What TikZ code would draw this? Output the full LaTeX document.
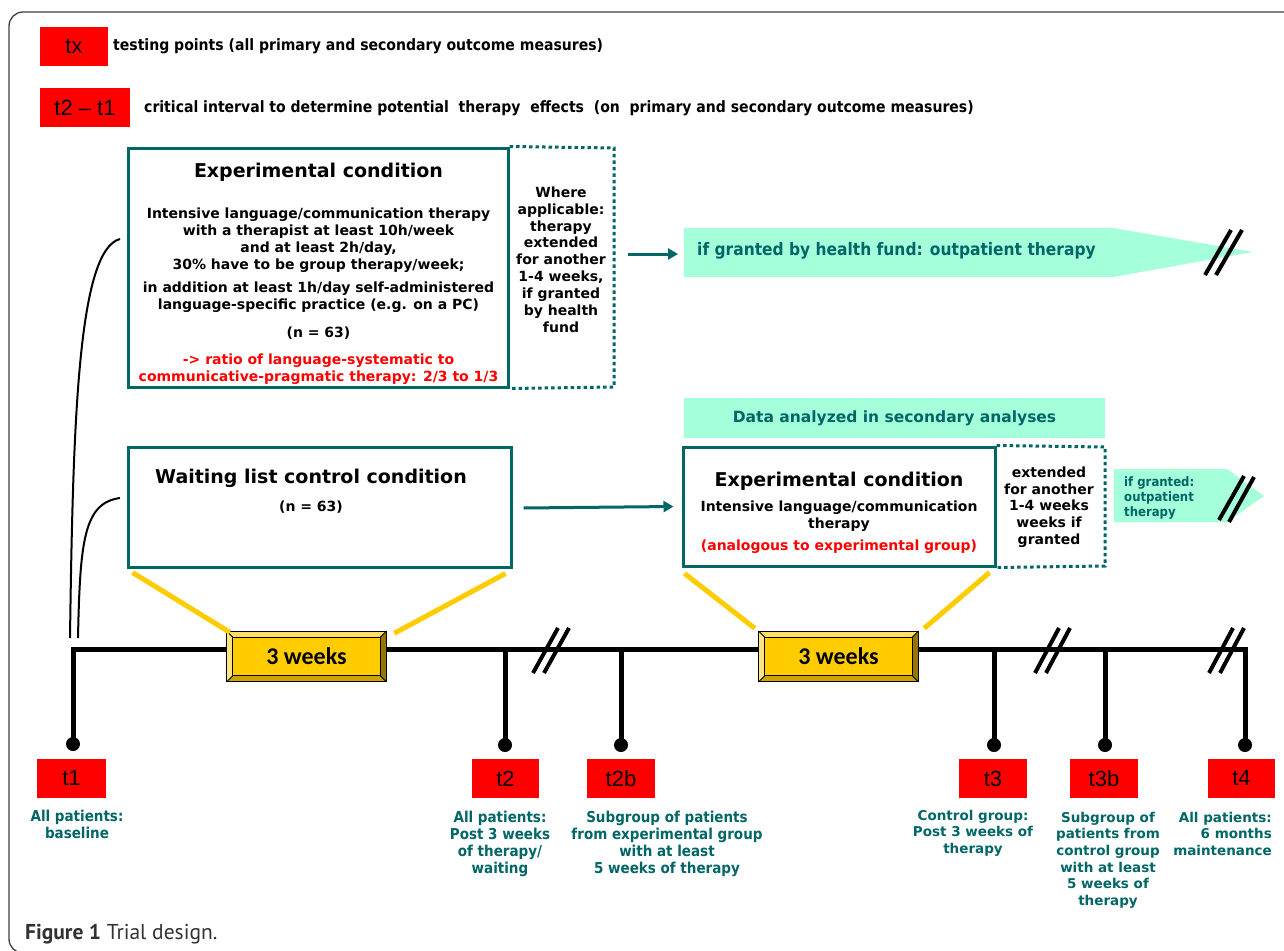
\documentclass[tikz,border=0pt]{standalone}
\usepackage{fontspec}
\setmainfont{DejaVu Sans}
\newfontfamily\cond{DejaVu Sans Condensed}
\newfontfamily\narrow{Liberation Sans}
\newfontfamily\capfont{PT Sans}
\newfontfamily\wkfont{Carlito}
\usetikzlibrary{calc,arrows.meta}
\definecolor{teal2}{RGB}{0,102,102}
\definecolor{mint}{RGB}{164,255,218}
\definecolor{gold}{RGB}{255,204,0}
\definecolor{goldlight}{RGB}{255,222,100}
\definecolor{golddark}{RGB}{204,163,0}
\definecolor{golddarker}{RGB}{150,118,0}
\definecolor{capgray}{RGB}{50,50,50}
\tikzset{
  box/.style={draw=teal2, line width=3pt, rectangle, inner sep=0pt},
  dotbox/.style={draw=teal2, line width=3pt, dash pattern=on 3.5pt off 3pt},
  redbox/.style={fill=red, inner sep=0pt, text=black, font=\narrow\fontsize{22}{22}\selectfont},
  lbl/.style={text=teal2, inner sep=0pt, align=center, font=\cond\bfseries\fontsize{15}{17}\selectfont},
  lblv/.style={text=teal2, inner sep=0pt, align=center, font=\bfseries\fontsize{13.5}{16.7}\selectfont},
  body/.style={inner sep=0pt, align=center, font=\bfseries\fontsize{14}{17.2}\selectfont},
  ttl/.style={inner sep=0pt, font=\bfseries\fontsize{19}{22}\selectfont},
  legend/.style={inner sep=0pt, anchor=west, font=\cond\bfseries\fontsize{15.6}{17}\selectfont},
  tdot/.style={circle, fill=black, inner sep=0pt, minimum size=14pt},
  tl/.style={line width=5pt, black},
  gl/.style={gold, line width=5pt},
  brk/.style={line width=4pt, black},
  wkbox/.style={fill=gold, inner sep=0pt, minimum width=159pt, minimum height=50pt},
  wktext/.style={inner sep=0pt, font=\wkfont\bfseries\fontsize{24}{24}\selectfont},
  tarrow/.style={teal2, line width=3pt, -{Triangle[length=10pt,width=11pt]}},
}
\newcommand\bevelbox[1]{%
  \fill[goldlight] (#1.north west) -- (#1.north east) -- ($(#1.north east)+(-6,6)$) -- ($(#1.north west)+(6,6)$) -- cycle;
  \fill[goldlight!80!white] (#1.north west) -- (#1.south west) -- ($(#1.south west)+(6,-6)$) -- ($(#1.north west)+(6,6)$) -- cycle;
  \fill[golddark] (#1.south west) -- (#1.south east) -- ($(#1.south east)+(-6,-6)$) -- ($(#1.south west)+(6,-6)$) -- cycle;
  \fill[golddarker] (#1.north east) -- (#1.south east) -- ($(#1.south east)+(-6,-6)$) -- ($(#1.north east)+(-6,6)$) -- cycle;
  \draw[line width=1pt] (#1.north west) rectangle (#1.south east);
  \draw[line width=0.8pt] ($(#1.north west)+(6,6)$) rectangle ($(#1.south east)+(-6,-6)$);
  \draw[line width=0.8pt] (#1.north west) -- ($(#1.north west)+(6,6)$)
    (#1.north east) -- ($(#1.north east)+(-6,6)$)
    (#1.south west) -- ($(#1.south west)+(6,-6)$)
    (#1.south east) -- ($(#1.south east)+(-6,-6)$);
}
\begin{document}
\begin{tikzpicture}[x=1pt,y=-1pt]
\useasboundingbox (0,0) rectangle (1284,950);
\fill[white] (0,0) rectangle (1284,950);
% frame
\draw[line width=1.3pt, black!75, rounded corners=14pt] (9,12) rectangle (1320,953);

% legend
\node[redbox, minimum width=68pt, minimum height=39pt] (tx) at (74,46.5) {tx};
\node[legend] (txl) at (113,46) {testing points (all primary and secondary outcome measures)};
\node[redbox, minimum width=90pt, minimum height=39pt] (tt) at (85,107.5) {t2 – t1};
\node[legend] (ttl) at (144,108) {critical interval to determine potential\ \ therapy\ \ effects\ \ (on\ \ primary and secondary outcome measures)};

% experimental condition box 1
\node[box, minimum width=380pt, minimum height=239pt] (exp1) at (318,267.5) {};
\coordinate (e1a) at (614,148);
\coordinate (e1b) at (614,387);
\draw[dotbox] (exp1.north east) -- (e1a) -- (e1b) -- (exp1.south east);
\node[ttl, anchor=north] (e1t) at (318.5,162.4) {Experimental condition};
\node[body, anchor=north] (e1b1) at (318.5,207.4) {Intensive language/communication therapy\\with a therapist at least 10h/week\\and at least 2h/day,\\30\% have to be group therapy/week;};
\node[body, anchor=north] (e1b2) at (318.5,281.4) {in addition at least 1h/day self-administered\\language-specific practice (e.g. on a PC)};
\node[body, anchor=north] (e1n) at (318.5,326.4) {(n = 63)};
\node[body, anchor=north, text=red] (e1r) at (318.5,353.4) {-> ratio of language-systematic to\\communicative-pragmatic therapy: 2/3 to 1/3};
\node[body, anchor=north, font=\bfseries\fontsize{14}{16.9}\selectfont] (e1s) at (561,186.4) {Where\\applicable:\\therapy\\extended\\for another\\1-4 weeks,\\if granted\\by health\\fund};

% outpatient arrow 1
\coordinate (a1s) at (628,254);
\coordinate (mintA) at (684,254);
\fill[mint] (684,228) -- (1113,228) -- (1253,252) -- (1113,277) -- (684,277) -- cycle;
\draw[tarrow] (a1s) -- ($(mintA)+(-6,0)$);
\node[inner sep=0pt, anchor=west, text=teal2, font=\cond\bfseries\fontsize{17.2}{19}\selectfont] (mintAt) at (697,251) {if granted by health fund: outpatient therapy};
\draw[brk] (1205,275) -- (1231,230);
\draw[brk] (1216,275) -- (1242,230);

% data analyzed
\node[fill=mint, minimum width=421pt, minimum height=40pt, inner sep=0pt, text=teal2, font=\bfseries\fontsize{15.5}{17}\selectfont] (dat) at (894.5,418) {Data analyzed in secondary analyses};

% waiting list
\node[box, minimum width=383pt, minimum height=120pt] (wait) at (319.5,507) {};
\node[ttl, anchor=north] (wt) at (311,468.4) {Waiting list control condition};
\node[body, anchor=north] (wn) at (311,500.4) {(n = 63)};

% experimental condition box 2
\node[box, minimum width=312pt, minimum height=119pt] (exp2) at (839,506.5) {};
\coordinate (e2a) at (1105,447);
\coordinate (e2b) at (1105,566);
\draw[dotbox] (exp2.north east) -- (e2a) -- (e2b) -- (exp2.south east);
\node[ttl, anchor=north] (e2t) at (839,471.4) {Experimental condition};
\node[body, anchor=north] (e2b1) at (839,500.4) {Intensive language/communication\\therapy};
\node[body, anchor=north, text=red] (e2r) at (839,539.4) {(analogous to experimental group)};
\node[body, anchor=north, font=\bfseries\fontsize{14}{16.8}\selectfont] (e2s) at (1049,466.4) {extended\\for another\\1-4 weeks\\weeks if\\granted};

\draw[tarrow] ($(wait.east)+(11,1)$) -- ($(exp2.west)+(-8,0)$);

% outpatient arrow 2
\fill[mint] (1114,469) -- (1227,469) -- (1264,496) -- (1227,522) -- (1114,522) -- cycle;
\node[inner sep=0pt, anchor=west, align=left, text=teal2, font=\cond\bfseries\fontsize{13}{15}\selectfont] (mintBt) at (1124,498) {if granted:\\outpatient\\therapy};
\draw[brk] (1219,520) -- (1244,476);
\draw[brk] (1229,522) -- (1254,477);

% left curves
\draw[line width=2pt] (70,638) .. controls (73,420) and (78,250) .. (120,239);
\draw[line width=2pt] (78,638) .. controls (80,540) and (84,503) .. (120,498);

% timeline
\coordinate (L) at (0,649);
\node[tdot] (d1) at (73,744) {};
\node[tdot] (d2) at (505,745) {};
\node[tdot] (d2b) at (621,745) {};
\node[tdot] (d3) at (994,745) {};
\node[tdot] (d3b) at (1105,745) {};
\node[tdot] (d4) at (1245,745) {};
\draw[tl, line join=miter] (d1.center) -- (d1 |- L) -- (d4 |- L) -- (d4.center);
\draw[tl] (d2.center) -- (d2 |- L);
\draw[tl] (d2b.center) -- (d2b |- L);
\draw[tl] (d3.center) -- (d3 |- L);
\draw[tl] (d3b.center) -- (d3b |- L);

\draw[brk] (533,673) -- (558,628);
\draw[brk] (544,673) -- (569,628);
\draw[brk] (1035,673) -- (1059,628);
\draw[brk] (1046,673) -- (1070,628);
\draw[brk] (1209,673) -- (1233,628);
\draw[brk] (1220,673) -- (1244,628);

% 3 weeks boxes
\node[wkbox] (wk1) at (306.5,656.5) {};
\bevelbox{wk1}
\node[wktext] at (wk1) {3 weeks};
\node[wkbox] (wk2) at (838.5,656.5) {};
\bevelbox{wk2}
\node[wktext] at (wk2) {3 weeks};

% gold connectors
\draw[gl] ($(wait.south west)+(6,4)$) -- ($(wk1.north west)+(3,1)$);
\draw[gl] ($(wait.south east)+(-7,5)$) -- ($(wk1.north east)+(8,2)$);
\draw[gl] ($(exp2.south west)+(3,6)$) -- ($(wk2.north west)+(-4,-3)$);
\draw[gl] ($(exp2.south east)+(-7,5)$) -- ($(wk2.north east)+(6,-3)$);

% testing points
\node[redbox, minimum width=69pt, minimum height=39pt] (t1) at (71.5,778.5) {t1};
\node[redbox, minimum width=67pt, minimum height=39pt] (t2) at (505.5,778.5) {t2};
\node[redbox, minimum width=68pt, minimum height=39pt] (t2b) at (621,778.5) {t2b};
\node[redbox, minimum width=68pt, minimum height=39pt] (t3) at (993,778.5) {t3};
\node[redbox, minimum width=68pt, minimum height=39pt] (t3b) at (1104,778.5) {t3b};
\node[redbox, minimum width=67pt, minimum height=39pt] (t4) at (1241.5,778.5) {t4};

\node[lbl, anchor=north] (l1) at (77,810) {All patients:\\baseline};
\node[lbl, anchor=north] (l2) at (500,811) {All patients:\\Post 3 weeks\\of therapy/\\waiting};
\node[lbl, anchor=north] (l2b) at (667,811) {Subgroup of patients\\from experimental group\\with at least\\5 weeks of therapy};
\node[lblv, anchor=north] (l3) at (973,809.6) {Control group:\\Post 3 weeks of\\therapy};
\node[lblv, anchor=north] (l3b) at (1108,811.6) {Subgroup of\\patients from\\control group\\with at least\\5 weeks of\\therapy};
\node[lblv, anchor=north east, align=right] (l4) at (1272,811.6) {All patients:\\6 months\\maintenance};

% caption
\node[inner sep=0pt, anchor=west, text=capgray, font=\capfont\fontsize{21.5}{23}\selectfont] (cap) at (25,934) {\textbf{Figure 1} Trial design.};
\end{tikzpicture}
\end{document}
